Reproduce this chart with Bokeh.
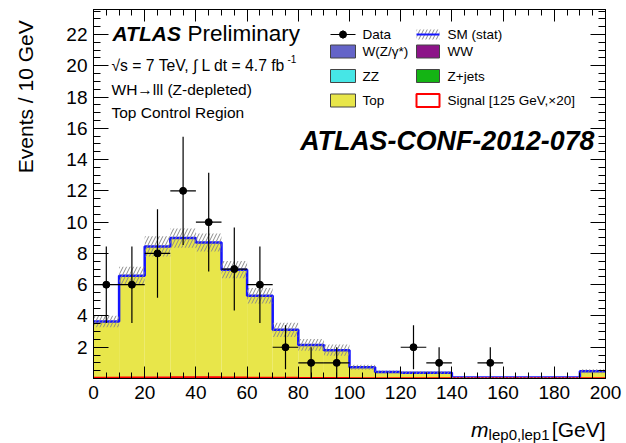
import numpy as np
from bokeh.plotting import figure
from bokeh.layouts import row, column
from bokeh.models import (Range1d, FixedTicker, LinearAxis, Label,
                          CustomJSTickFormatter, ColumnDataSource)
from bokeh.embed import file_html
from bokeh.resources import INLINE

# ---------------- data ----------------
bin_edges = [0, 10, 20, 30, 40, 50, 60, 70, 80, 90, 100,
             110, 120, 130, 140, 150, 160, 170, 180, 190, 200]
data_counts = [6, 6, 8, 12, 10, 7, 6, 2, 1, 1, 0, 0, 2, 1, 0, 1, 0, 0, 0, 0]
data_err = [2.45, 2.45, 2.83, 3.46, 3.16, 2.65, 2.45, 1.41, 1.0, 1.0,
            0, 0, 1.41, 1.0, 0, 1.0, 0, 0, 0, 0]
bkg_top = [3.56, 6.47, 8.34, 8.87, 8.59, 6.87, 5.22, 3.06, 2.11, 1.78,
           0.71, 0.41, 0.36, 0.36, 0.05, 0.05, 0.05, 0.05, 0.05, 0.45]
bkg_wz = [0.05, 0.06, 0.06, 0.05, 0.05, 0.04, 0.03, 0.03, 0.02, 0.02,
          0.01, 0.01, 0.01, 0.01, 0.01, 0.01, 0.01, 0.01, 0.01, 0.01]
bkg_zz = [0.01, 0.01, 0.01, 0.01, 0.01, 0.01, 0.01, 0.0, 0.0, 0.0,
          0.0, 0.0, 0.0, 0.0, 0.0, 0.0, 0.0, 0.0, 0.0, 0.0]
bkg_ww = [0.02, 0.03, 0.04, 0.05, 0.05, 0.04, 0.03, 0.02, 0.02, 0.01,
          0.0, 0.0, 0.0, 0.0, 0.0, 0.0, 0.0, 0.0, 0.0, 0.0]
bkg_zjets = [0.0, 0.0, 0.0, 0.0, 0.0, 0.0, 0.0, 0.0, 0.0, 0.0,
             0.0, 0.0, 0.0, 0.0, 0.0, 0.0, 0.0, 0.0, 0.0, 0.0]
signal_x20 = [0.04, 0.06, 0.07, 0.08, 0.08, 0.06, 0.05, 0.04, 0.03, 0.03,
              0.02, 0.02, 0.02, 0.02, 0.01, 0.01, 0.01, 0.01, 0.01, 0.01]
sm_stat = [0.37, 0.58, 0.65, 0.62, 0.58, 0.55, 0.50, 0.45, 0.38, 0.36,
           0.16, 0.09, 0.09, 0.09, 0.03, 0.03, 0.03, 0.03, 0.03, 0.13]
x_major_ticks = [0, 20, 40, 60, 80, 100, 120, 140, 160, 180, 200]
y_major_ticks = [2, 4, 6, 8, 10, 12, 14, 16, 18, 20, 22]

stack_names = ["Z+jets", "WW", "ZZ", "W(Z/γ*)", "Top"]
stack_values = [bkg_zjets, bkg_ww, bkg_zz, bkg_wz, bkg_top]
colors = {"W(Z/γ*)": "#6464c8", "WW": "#8c1488", "ZZ": "#46e6e6",
          "Z+jets": "#14b414", "Top": "#e8e64a"}

# ---------------- layout constants (global pixel coordinates) ----------------
W, H = 626, 443
LW = 40          # width of left strip holding the y title
MH = 410         # height of the top row (strip + main figure)
FL, FR, FT, FB = 93, 605, 9, 378
XMAX, YMAX = 200.0, 23.6
FONT = "Liberation Sans"
HATCH = dict(hatch_pattern="/", hatch_color="#8a8a8a", hatch_scale=7, hatch_weight=1)


def X(px):
    return (px - FL) / (FR - FL) * XMAX


def Y(py):
    return (FB - py) / (FB - FT) * YMAX


p = figure(width=W - LW, height=MH, x_range=Range1d(0, XMAX), y_range=Range1d(0, YMAX),
           output_backend="svg", toolbar_location=None, title=None,
           min_border_left=FL - LW, min_border_right=W - FR,
           min_border_top=FT, min_border_bottom=MH - FB)
p.xgrid.visible = False
p.ygrid.visible = False
p.outline_line_color = "black"
p.outline_line_width = 1
p.background_fill_color = "white"
p.border_fill_color = "white"

x_ticker = FixedTicker(ticks=x_major_ticks, minor_ticks=list(range(0, 201, 5)))
y_ticker = FixedTicker(ticks=y_major_ticks,
                       minor_ticks=[i * 0.5 for i in range(0, 48)])

for ax in [p.xaxis[0], p.yaxis[0]]:
    ax.axis_line_color = "black"
    ax.major_tick_out = 0
    ax.minor_tick_out = 0
    ax.major_tick_line_color = "black"
    ax.minor_tick_line_color = "black"
    ax.major_label_text_font = FONT
    ax.major_label_text_font_size = "19px"
    ax.major_label_text_color = "black"
p.xaxis[0].ticker = x_ticker
p.yaxis[0].ticker = y_ticker
p.xaxis[0].major_tick_in = 12
p.xaxis[0].minor_tick_in = 6
p.yaxis[0].major_tick_in = 15
p.yaxis[0].minor_tick_in = 7
p.xaxis[0].major_label_standoff = 7
p.yaxis[0].major_label_standoff = 6

blank = CustomJSTickFormatter(code="return ''")
right_ax = LinearAxis(ticker=y_ticker, formatter=blank, major_tick_in=15, minor_tick_in=7,
                      major_tick_out=0, minor_tick_out=0, major_label_text_font_size="1px",
                      major_label_standoff=0, axis_line_color="black")
top_ax = LinearAxis(ticker=x_ticker, formatter=blank, major_tick_in=12, minor_tick_in=6,
                    major_tick_out=0, minor_tick_out=0, major_label_text_font_size="1px",
                    major_label_standoff=0, axis_line_color="black")
p.add_layout(right_ax, "right")
p.add_layout(top_ax, "above")

# ---------------- stacked backgrounds ----------------
left = bin_edges[:-1]
right = bin_edges[1:]
cum = np.zeros(len(left))
for name, vals in zip(stack_names, stack_values):
    vals = np.array(vals)
    p.quad(left=left, right=right, bottom=cum.copy(), top=cum + vals,
           fill_color=colors[name], line_color=None)
    cum = cum + vals
total = cum

p.step(x=bin_edges, y=list(total) + [total[-1]], mode="after",
       line_color="#1414ff", line_width=2.5)
p.step(x=bin_edges, y=signal_x20 + [signal_x20[-1]], mode="after",
       line_color="#ff0000", line_width=2)
p.quad(left=left, right=right, bottom=total - np.array(sm_stat),
       top=total + np.array(sm_stat), fill_color=None, line_color=None, **HATCH)

centers = [(a + b) / 2 for a, b in zip(left, right)]
sel = [i for i, d in enumerate(data_counts) if d > 0]
dsrc = ColumnDataSource(dict(
    x=[centers[i] for i in sel],
    y=[data_counts[i] for i in sel],
    lo=[data_counts[i] - data_err[i] for i in sel],
    hi=[data_counts[i] + data_err[i] for i in sel],
    xl=[left[i] for i in sel],
    xr=[right[i] for i in sel]))
p.segment(x0="x", x1="x", y0="lo", y1="hi", source=dsrc, line_color="black", line_width=1.2)
p.segment(x0="xl", x1="xr", y0="y", y1="y", source=dsrc, line_color="black", line_width=1.2)
p.scatter(x="x", y="y", source=dsrc, size=7, fill_color="black", line_color="black")

# ---------------- legend ----------------
C1L, C1R, C2L, C2R = 330, 355, 416, 439
rows = [34, 51, 75.5, 100]
HH = 6.5
p.segment(x0=[X(C1L)], x1=[X(C1R)], y0=[Y(rows[0])], y1=[Y(rows[0])], line_color="black", line_width=1.2)
p.segment(x0=[X((C1L + C1R) / 2)], x1=[X((C1L + C1R) / 2)], y0=[Y(rows[0] - 4)],
          y1=[Y(rows[0] + 4)], line_color="black", line_width=1.2)
p.scatter(x=[X((C1L + C1R) / 2)], y=[Y(rows[0])], size=7, color="black")
p.quad(left=[X(C2L)], right=[X(C2R)], bottom=[Y(rows[0] + 5)], top=[Y(rows[0] - 5)],
       fill_color=None, line_color=None, **HATCH)
p.segment(x0=[X(C2L)], x1=[X(C2R)], y0=[Y(rows[0])], y1=[Y(rows[0])], line_color="#1414ff", line_width=2)

swatches = [(C1L, C1R, rows[1], colors["W(Z/γ*)"]), (C1L, C1R, rows[2], colors["ZZ"]),
            (C1L, C1R, rows[3], colors["Top"]), (C2L, C2R, rows[1], colors["WW"]),
            (C2L, C2R, rows[2], colors["Z+jets"])]
for l, r, yc, col in swatches:
    p.quad(left=[X(l)], right=[X(r)], bottom=[Y(yc + HH)], top=[Y(yc - HH)],
           fill_color=col, line_color="#444444", line_width=1)
p.quad(left=[X(C2L)], right=[X(C2R)], bottom=[Y(rows[3] + HH)], top=[Y(rows[3] - HH)],
       fill_color="white", line_color="#ff0000", line_width=2)

leg_texts = [(362, rows[0], "Data"), (447, rows[0], "SM (stat)"),
             (362, rows[1], "W(Z/γ*)"), (447, rows[1], "WW"),
             (362, rows[2], "ZZ"), (447, rows[2], "Z+jets"),
             (362, rows[3], "Top"), (447, rows[3], "Signal [125 GeV,×20]")]
for tx, ty, t in leg_texts:
    p.add_layout(Label(x=X(tx), y=Y(ty), text=t, text_font=FONT, text_font_size="13.5px",
                       text_baseline="middle", text_align="left", text_color="black"))


def label(fig, x, y, text, size, style="normal", align="left", baseline="middle", angle=0):
    fig.add_layout(Label(x=x, y=y, text=text, text_font=FONT, text_font_size=size,
                         text_font_style=style, text_align=align, text_baseline=baseline,
                         angle=angle, text_color="black"))


label(p, X(112), Y(33), "ATLAS", "21px", "bold italic")
label(p, X(187), Y(33), "Preliminary", "22.5px")
label(p, X(111), Y(65), "√s = 7 TeV, ∫ L dt = 4.7 fb", "15.7px")
label(p, X(287), Y(58), "-1", "10px")
label(p, X(111), Y(89), "WH→lll (Z-depleted)", "15.5px")
label(p, X(111), Y(112), "Top Control Region", "15.5px")
label(p, X(594), Y(140), "ATLAS-CONF-2012-078", "26.8px", "bold italic", align="right")


# ---------------- axis-title strips (coordinates = global pixels) ----------------
def strip(w, h, x0, x1, y0, y1):
    f = figure(width=w, height=h, x_range=Range1d(x0, x1), y_range=Range1d(y1, y0),
               output_backend="svg", toolbar_location=None, title=None,
               x_axis_location=None, y_axis_location=None,
               min_border_left=0, min_border_right=0, min_border_top=0, min_border_bottom=0)
    f.xgrid.visible = False
    f.ygrid.visible = False
    f.outline_line_color = None
    f.background_fill_color = "white"
    f.border_fill_color = "white"
    return f


left_strip = strip(LW, MH, 0, LW, 0, MH)
label(left_strip, 25, 12, "Events / 10 GeV", "21px", align="right", angle=np.pi / 2)

bottom_strip = strip(W, H - MH, 0, W, MH, H)
label(bottom_strip, 605, 429, "[GeV]", "21px", align="right")
label(bottom_strip, 549, 434, "lep0,lep1", "15px", align="right")
label(bottom_strip, 488, 429, "m", "21px", "italic", align="right")

layout = column(row(left_strip, p, spacing=0), bottom_strip, spacing=0)

open("out.html", "w").write(file_html(layout, INLINE))
